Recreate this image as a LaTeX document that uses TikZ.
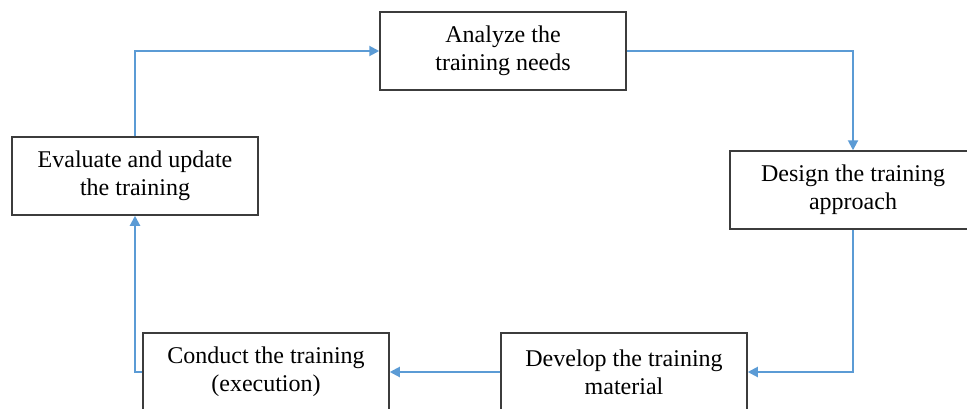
\documentclass[tikz,border=0pt]{standalone}
\usepackage{fontspec}
\setmainfont{Liberation Serif}
\usetikzlibrary{arrows.meta}
\definecolor{myblue}{RGB}{91,155,213}
\definecolor{mygray}{RGB}{60,60,60}
\tikzset{
  stagebox/.style={rectangle, draw=mygray, fill=white, line width=0.75pt,
    minimum width=123pt, minimum height=39pt, align=center,
    font=\fontsize{12}{14}\selectfont},
  flowarrow/.style={-{Triangle[length=5pt,width=5pt]}, color=myblue, line width=1pt}
}
\begin{document}
\begin{tikzpicture}[x=0.5pt, y=-0.5pt]
  % Page frame
  \useasboundingbox (0,0) rectangle (967,408);
  \clip (0,0) rectangle (967,408);

  % Stages of the cycle
  \node[stagebox] (analyze) at (503,51) {Analyze the\\training needs};
  \node[stagebox] (design) at (853,190) {Design the training\\approach};
  \node[stagebox] (develop) at (624,372) {Develop the training\\material};
  \node[stagebox] (conduct) at (266,372) {Conduct the training\\(execution)};
  \node[stagebox] (evaluate) at (135,176) {Evaluate and update\\the training};

  % Connectors
  \draw[flowarrow] (evaluate.north) |- (analyze.west);
  \draw[flowarrow] (analyze.east) -| (design.north);
  \draw[flowarrow] (design.south) |- (develop.east);
  \draw[flowarrow] (develop.west) -- (conduct.east);
  \draw[flowarrow] (conduct.west) -| (evaluate.south);
\end{tikzpicture}
\end{document}
